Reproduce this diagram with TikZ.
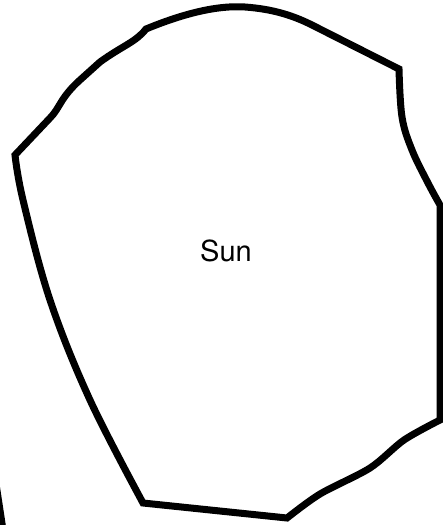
\documentclass[tikz,border=0pt]{standalone}
\usepackage{fontspec}
\setmainfont{TeX Gyre Heros}
\begin{document}
\begin{tikzpicture}[x=1pt,y=-1pt,
  outline/.style={line width=7pt,line join=miter,black}]
\useasboundingbox (0,0) rectangle (443,525);
\begin{scope}
\clip (0,0) rectangle (443,525);
\draw[outline] (15,155) -- (50,118) .. controls (60,108) and (60,98) .. (80,80)
  -- (100,62) .. controls (122,46) and (136,42) .. (146,29)
  .. controls (180,15) and (215,5) .. (245,7)
  .. controls (272,9) and (292,15) .. (312,25) -- (399,69)
  -- plot[smooth,tension=0.6] coordinates {(399,69) (402,117) (412,150) (428,183) (440,205)}
  -- (440,420)
  -- plot[smooth,tension=0.5] coordinates {(440,420) (404,440) (370,468) (320,494) (287,518)}
  -- (143,503)
  -- plot[smooth,tension=0.6] coordinates {(143,503) (90,400) (50,300) (23,200) (15,155)}
  -- cycle;
\coordinate (e1) at (-4,484);
\coordinate (e2) at (3,530);
\draw[outline] (e1) -- (e2);
\end{scope}
\node[font=\fontsize{29}{31}\selectfont] (sun) at (226,251) {Sun};
\end{tikzpicture}
\end{document}
